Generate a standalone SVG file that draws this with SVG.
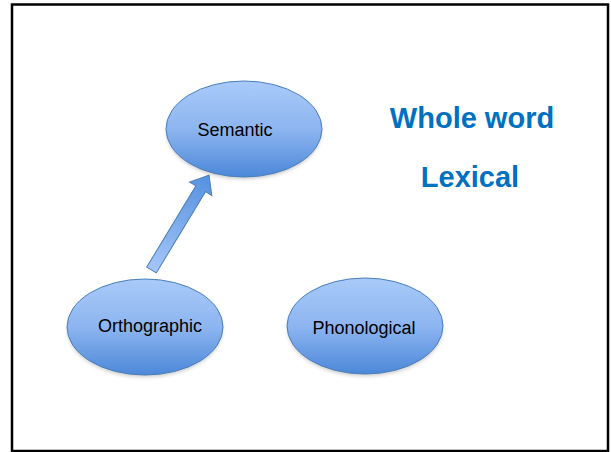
<svg xmlns="http://www.w3.org/2000/svg" width="611" height="452" viewBox="0 0 611 452">
  <style>
    .node { stroke: #4a7ebb; stroke-width: 1; fill: url(#blueGrad); }
    .label { font-family: "Liberation Sans", Arial, sans-serif; font-size: 18px; fill: #000; text-anchor: middle; }
    .title { font-family: "Liberation Sans", Arial, sans-serif; font-size: 29px; font-weight: bold; fill: #0070C0; text-anchor: middle; }
    .shadow { fill: #000; opacity: 0.25; filter: url(#blur); }
  </style>
  <defs>
    <linearGradient id="blueGrad" x1="0" y1="0" x2="0" y2="1">
      <stop offset="0" stop-color="#a9caf9"/>
      <stop offset="0.5" stop-color="#8db5f0"/>
      <stop offset="1" stop-color="#4c88d9"/>
    </linearGradient>
    <linearGradient id="arrowGrad" x1="0" y1="0" x2="1" y2="0">
      <stop offset="0" stop-color="#a4c6f8"/>
      <stop offset="1" stop-color="#5590df"/>
    </linearGradient>
    <filter id="blur" x="-20%" y="-20%" width="140%" height="140%">
      <feGaussianBlur stdDeviation="2"/>
    </filter>
  </defs>
  <rect x="0" y="0" width="611" height="452" fill="#ffffff"/>
  <rect x="12" y="4.5" width="596" height="446.5" fill="#ffffff" stroke="#000" stroke-width="2.5"/>

  <g id="connectors">
    <polygon transform="translate(151.5,270) rotate(-58.8)" points="0,-5.6 95,-5.6 95,-13 111,0 95,13 95,5.6 0,5.6" fill="url(#arrowGrad)" stroke="#4a7ebb" stroke-width="1"/>
  </g>

  <g id="semantic">
    <ellipse class="shadow" cx="244" cy="131.5" rx="77" ry="47"/>
    <ellipse class="node" cx="244" cy="129" rx="78" ry="48"/>
    <text class="label" x="235" y="136">Semantic</text>
  </g>

  <g id="orthographic">
    <ellipse class="shadow" cx="145" cy="329.5" rx="77" ry="47"/>
    <ellipse class="node" cx="145" cy="327" rx="78" ry="48"/>
    <text class="label" x="150" y="332">Orthographic</text>
  </g>

  <g id="phonological">
    <ellipse class="shadow" cx="365" cy="328.5" rx="77" ry="47"/>
    <ellipse class="node" cx="365" cy="326" rx="78" ry="48"/>
    <text class="label" x="364" y="334">Phonological</text>
  </g>

  <g id="titles">
    <text class="title" x="472" y="128">Whole word</text>
    <text class="title" x="470" y="187">Lexical</text>
  </g>
</svg>
